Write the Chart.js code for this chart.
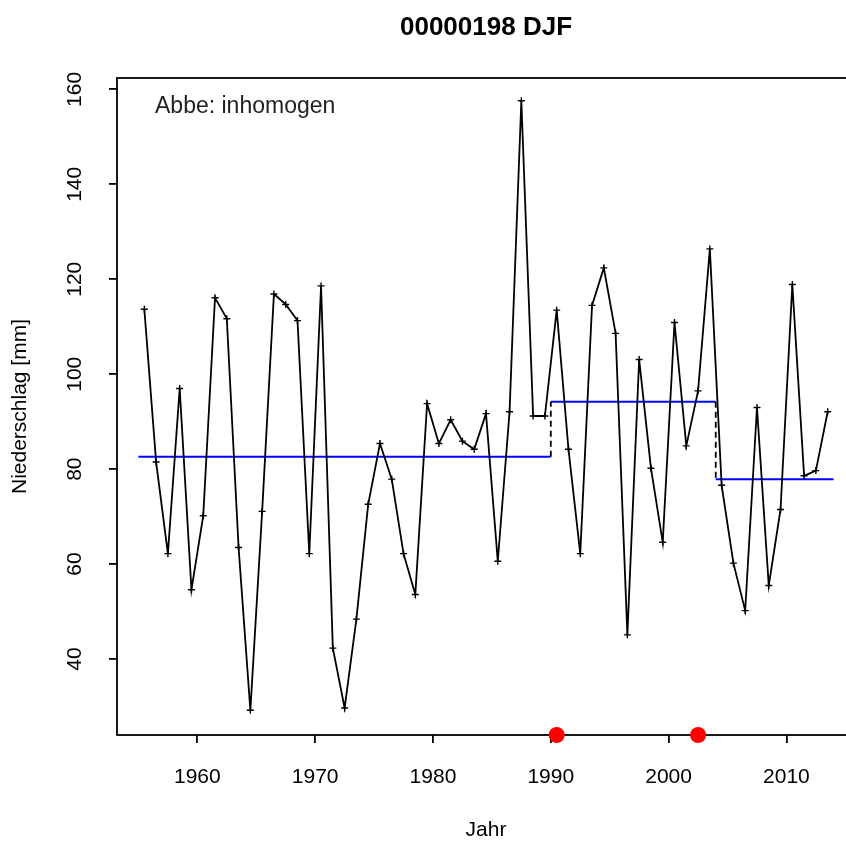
<!DOCTYPE html>
<html>
<head>
<meta charset="utf-8">
<title>00000198 DJF</title>
<script src="https://cdn.jsdelivr.net/npm/chart.js@4/dist/chart.umd.min.js"></script>
<style>
  html, body { margin: 0; padding: 0; background: #fff; }
  #wrap { width: 846px; height: 841px; overflow: hidden; }
  #chart { display: block; }
</style>
</head>
<body>
<div id="wrap"><canvas id="chart" width="880" height="841"></canvas></div>
<script>
// ---------- Winter (DJF) precipitation series ----------
const winterYears = [
  1955.5, 1956.5, 1957.5, 1958.5, 1959.5, 1960.5, 1961.5, 1962.5, 1963.5, 1964.5,
  1965.5, 1966.5, 1967.5, 1968.5, 1969.5, 1970.5, 1971.5, 1972.5, 1973.5, 1974.5,
  1975.5, 1976.5, 1977.5, 1978.5, 1979.5, 1980.5, 1981.5, 1982.5, 1983.5, 1984.5,
  1985.5, 1986.5, 1987.5, 1988.5, 1989.5, 1990.5, 1991.5, 1992.5, 1993.5, 1994.5,
  1995.5, 1996.5, 1997.5, 1998.5, 1999.5, 2000.5, 2001.5, 2002.5, 2003.5, 2004.5,
  2005.5, 2006.5, 2007.5, 2008.5, 2009.5, 2010.5, 2011.5, 2012.5, 2013.5
];
const precipMm = [
  113.7, 81.5, 62.2, 97.0, 54.6, 70.2, 116.1, 111.7, 63.5, 29.2,
  71.1, 116.9, 114.7, 111.3, 62.2, 118.6, 42.3, 29.7, 48.4, 72.6,
  85.4, 77.9, 62.2, 53.6, 93.8, 85.4, 90.4, 85.9, 84.2, 91.7,
  60.6, 92.1, 157.6, 91.2, 91.2, 113.5, 84.2, 62.2, 114.5, 122.4,
  108.6, 45.1, 103.1, 80.2, 64.6, 110.9, 84.9, 96.5, 126.4, 76.6,
  60.2, 50.2, 93.0, 55.5, 71.5, 118.9, 78.6, 79.7, 92.1
];

// homogeneous sub-periods and their means
const segStarts = [1955, 1990, 2004];
const segEnds = [1990, 2004, 2014];
const segMeans = [82.6, 94.2, 77.9];

// detected break points (marked on the x axis)
const breakYears = [1990.5, 2002.5];

const xTickYears = [1960, 1970, 1980, 1990, 2000, 2010];
const yTickValues = [40, 60, 80, 100, 120, 140, 160];
const xRange = [1953.18, 2015.82];
const yRange = [24.0, 162.4];

const titleText = '00000198 DJF';
const noteText = 'Abbe: inhomogen';

const FONT = '"Liberation Sans", Arial, sans-serif';
Chart.defaults.font.family = FONT;

// ---------- Datasets ----------
const seriesData = winterYears.map((x, i) => ({ x, y: precipMm[i] }));

const meanLines = segMeans.map((m, i) => ({
  data: [{ x: segStarts[i], y: m }, { x: segEnds[i], y: m }],
  borderColor: '#0000ff',
  borderWidth: 2,
  pointRadius: 0,
  order: 4
}));

const jumpLines = segMeans.slice(1).map((m, i) => ({
  data: [{ x: segEnds[i], y: segMeans[i] }, { x: segStarts[i + 1], y: m }],
  borderColor: '#000',
  borderWidth: 1.8,
  borderDash: [6, 4],
  pointRadius: 0,
  order: 3
}));

// ---------- Frame, rotated y labels, title, note ----------
const framePlugin = {
  id: 'frame',
  beforeDatasetsDraw(chart) {
    const { ctx, chartArea: a } = chart;
    ctx.save();
    ctx.strokeStyle = '#000';
    ctx.lineWidth = 1.8;
    ctx.strokeRect(a.left, a.top, a.right - a.left, a.bottom - a.top);
    ctx.restore();
  },
  afterDraw(chart) {
    const { ctx, chartArea: a, scales } = chart;
    ctx.save();
    ctx.fillStyle = '#000';
    ctx.textAlign = 'center';
    ctx.textBaseline = 'middle';

    // y tick labels run along the axis
    ctx.font = '21px ' + FONT;
    scales.y.ticks.forEach(t => {
      const y = scales.y.getPixelForValue(t.value);
      ctx.save();
      ctx.translate(75, y);
      ctx.rotate(-Math.PI / 2);
      ctx.fillText(String(t.value), 0, 0);
      ctx.restore();
    });

    ctx.font = 'bold 26px ' + FONT;
    ctx.fillText(titleText, (a.left + a.right) / 2, 28);

    ctx.font = '23px ' + FONT;
    ctx.textAlign = 'left';
    ctx.fillStyle = '#222';
    ctx.fillText(noteText, 155, 107);
    ctx.restore();
  }
};

const axisGrid = {
  drawOnChartArea: false,
  drawTicks: true,
  tickLength: 8,
  color: '#000',
  lineWidth: 1.8
};

new Chart(document.getElementById('chart'), {
  type: 'line',
  data: {
    datasets: [
      {
        data: breakYears.map(x => ({ x, y: yRange[0] })),
        showLine: false,
        pointStyle: 'circle',
        pointRadius: 8,
        pointBackgroundColor: '#ff0000',
        pointBorderWidth: 0,
        clip: false,
        order: 1
      },
      {
        data: seriesData,
        borderColor: '#000',
        borderWidth: 1.8,
        pointStyle: 'cross',
        pointRadius: 3.5,
        pointBorderColor: '#000',
        pointBorderWidth: 1.4,
        tension: 0,
        order: 2
      },
      ...jumpLines,
      ...meanLines
    ]
  },
  options: {
    responsive: false,
    animation: false,
    layout: { padding: { top: 78, right: 25, bottom: 0, left: 0 } },
    plugins: {
      legend: { display: false },
      tooltip: { enabled: false },
      title: { display: false }
    },
    scales: {
      x: {
        type: 'linear',
        min: xRange[0],
        max: xRange[1],
        afterBuildTicks: s => { s.ticks = xTickYears.map(v => ({ value: v })); },
        afterFit: s => { s.height = 106; },
        grid: axisGrid,
        border: { display: false },
        ticks: {
          color: '#000',
          font: { size: 21 },
          padding: 22,
          maxRotation: 0,
          autoSkip: false,
          callback: v => String(v)
        },
        title: {
          display: true,
          text: 'Jahr',
          color: '#000',
          font: { size: 21, lineHeight: 1 },
          padding: 0
        }
      },
      y: {
        type: 'linear',
        min: yRange[0],
        max: yRange[1],
        afterBuildTicks: s => { s.ticks = yTickValues.map(v => ({ value: v })); },
        afterFit: s => { s.width = 117; },
        grid: axisGrid,
        border: { display: false },
        ticks: { display: false },
        title: {
          display: true,
          text: 'Niederschlag [mm]',
          color: '#000',
          font: { size: 21, lineHeight: 1 },
          padding: { top: 10, bottom: 0 }
        }
      }
    }
  },
  plugins: [framePlugin]
});
</script>
</body>
</html>
